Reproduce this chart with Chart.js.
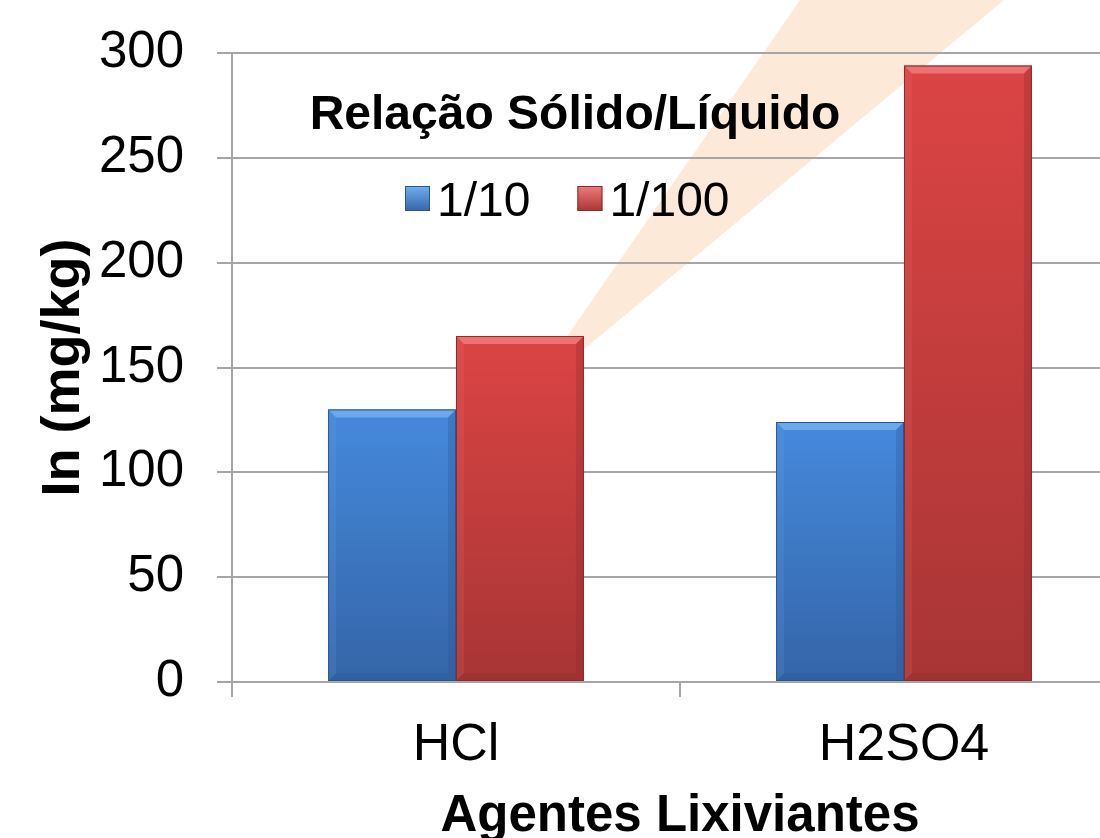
<!DOCTYPE html>
<html>
<head>
<meta charset="utf-8">
<script src="https://cdn.jsdelivr.net/npm/chart.js@4/dist/chart.umd.min.js"></script>
<style>
  html, body { margin: 0; padding: 0; background: #fff; overflow: hidden; }
  #wrap { width: 1100px; height: 838px; overflow: hidden; }
</style>
</head>
<body>
<div id="wrap"><canvas id="chart" width="1160" height="838"></canvas></div>
<script>
var categories = ["HCl", "H2SO4"];
var seriesNames = ["1/10", "1/100"];
var values10 = [130, 124];
var values100 = [165, 294];
var yMin = 0, yMax = 300, yStep = 50;
var legendTitle = "Relação Sólido/Líquido";
var yTitle = "In (mg/kg)";
var xTitle = "Agentes Lixiviantes";

var FONT = "'Liberation Sans', Arial, sans-serif";
var GRID = "#a6a6a6";

// colours per series: [top, bottom, bevel light, bevel dark]
var PAL = [
  ["#4589dc", "#3465a8", "#72aef0", "#2a5594"],
  ["#dc4444", "#a83535", "#f27a7a", "#8a2a2a"]
];

function barFill(i) {
  return function(ctx) {
    var chart = ctx.chart;
    var ca = chart.chartArea;
    if (!ca || ctx.raw == null) return PAL[i][0];
    var top = chart.scales.y.getPixelForValue(ctx.raw);
    var g = chart.ctx.createLinearGradient(0, top, 0, ca.bottom);
    g.addColorStop(0, PAL[i][0]);
    g.addColorStop(1, PAL[i][1]);
    return g;
  };
}

// faint peach band behind the plot
var bandPlugin = {
  id: "band",
  beforeDraw: function(chart) {
    var c = chart.ctx;
    c.save();
    c.fillStyle = "rgba(252, 224, 200, 0.7)";
    c.beginPath();
    c.moveTo(523, 400);
    c.lineTo(800, 0);
    c.lineTo(1004, 0);
    c.closePath();
    c.fill();
    c.restore();
  }
};

// bevel edges on the bars
var bevelPlugin = {
  id: "bevel",
  afterDatasetsDraw: function(chart) {
    var c = chart.ctx;
    chart.data.datasets.forEach(function(ds, i) {
      chart.getDatasetMeta(i).data.forEach(function(bar) {
        var p = bar.getProps(["x", "y", "base", "width"], true);
        var l = p.x - p.width / 2, r = p.x + p.width / 2, t = p.y, b = p.base, k = 8;
        c.save();
        c.fillStyle = PAL[i][2];
        c.globalAlpha = 0.85;
        c.beginPath();
        c.moveTo(l, t); c.lineTo(r, t); c.lineTo(r - k, t + k); c.lineTo(l + k, t + k);
        c.closePath(); c.fill();
        c.globalAlpha = 0.3;
        c.fillStyle = PAL[i][3];
        c.beginPath();
        c.moveTo(r, t); c.lineTo(r, b); c.lineTo(r - k, b - k); c.lineTo(r - k, t + k);
        c.closePath(); c.fill();
        c.beginPath();
        c.moveTo(l, b); c.lineTo(r, b); c.lineTo(r - k, b - k); c.lineTo(l + k, b - k);
        c.closePath(); c.fill();
        c.globalAlpha = 0.15;
        c.fillStyle = PAL[i][2];
        c.beginPath();
        c.moveTo(l, t); c.lineTo(l + k, t + k); c.lineTo(l + k, b - k); c.lineTo(l, b);
        c.closePath(); c.fill();
        c.globalAlpha = 1;
        c.strokeStyle = PAL[i][3];
        c.lineWidth = 1;
        c.strokeRect(l + 0.5, t + 0.5, p.width - 1, b - t - 1);
        c.restore();
      });
    });
  }
};

// legend drawn inside the plot
var legendPlugin = {
  id: "innerLegend",
  afterDraw: function(chart) {
    var c = chart.ctx;
    c.save();
    c.fillStyle = "#000";
    c.font = "bold 48px " + FONT;
    c.textAlign = "center";
    c.textBaseline = "alphabetic";
    c.fillText(legendTitle, 575, 129);

    c.font = "48px " + FONT;
    c.textAlign = "left";
    var x = 405;
    chart.data.datasets.forEach(function(ds, i) {
      var g = c.createLinearGradient(0, 186, 0, 211);
      g.addColorStop(0, PAL[i][2]);
      g.addColorStop(1, PAL[i][1]);
      c.fillStyle = g;
      c.fillRect(x, 186, 25, 25);
      c.strokeStyle = PAL[i][3];
      c.lineWidth = 1;
      c.strokeRect(x + 0.5, 186.5, 24, 24);
      c.fillStyle = "#000";
      c.fillText(ds.label, x + 32, 216);
      x += 32 + c.measureText(ds.label).width + 47;
    });
    c.restore();
  }
};

var ctx = document.getElementById("chart").getContext("2d");
new Chart(ctx, {
  type: "bar",
  data: {
    labels: categories,
    datasets: [
      { label: seriesNames[0], data: values10, backgroundColor: barFill(0), borderWidth: 0 },
      { label: seriesNames[1], data: values100, backgroundColor: barFill(1), borderWidth: 0 }
    ]
  },
  options: {
    responsive: false,
    animation: false,
    devicePixelRatio: 1,
    layout: { padding: { top: 53, left: 20, right: 32, bottom: 0 } },
    datasets: { bar: { categoryPercentage: 0.571, barPercentage: 1.0 } },
    plugins: { legend: { display: false }, tooltip: { enabled: false } },
    scales: {
      x: {
        offset: true,
        grid: { drawOnChartArea: false, drawTicks: true, tickLength: 15, color: GRID, lineWidth: 2, offset: true },
        border: { color: GRID, width: 2 },
        ticks: { color: "#000", font: { family: FONT, size: 52 }, padding: 17 },
        title: { display: true, text: xTitle, color: "#000", font: { family: FONT, size: 51, weight: "bold" }, padding: { top: 0, bottom: -10 } },
        afterFit: function(s) { s.height = 156; s.paddingLeft = 0; s.paddingRight = 0; }
      },
      y: {
        min: yMin, max: yMax,
        grid: { color: GRID, lineWidth: 2, tickLength: 15, drawTicks: true },
        border: { color: GRID, width: 2 },
        ticks: { stepSize: yStep, color: "#000", font: { family: FONT, size: 51 }, padding: 33 },
        title: { display: true, text: yTitle, color: "#000", font: { family: FONT, size: 54, weight: "bold" }, padding: { top: 12, bottom: 0 } },
        afterFit: function(s) { s.width = 212; s.paddingTop = 0; s.paddingBottom = 0; }
      }
    }
  },
  plugins: [bandPlugin, bevelPlugin, legendPlugin]
});
</script>
</body>
</html>
